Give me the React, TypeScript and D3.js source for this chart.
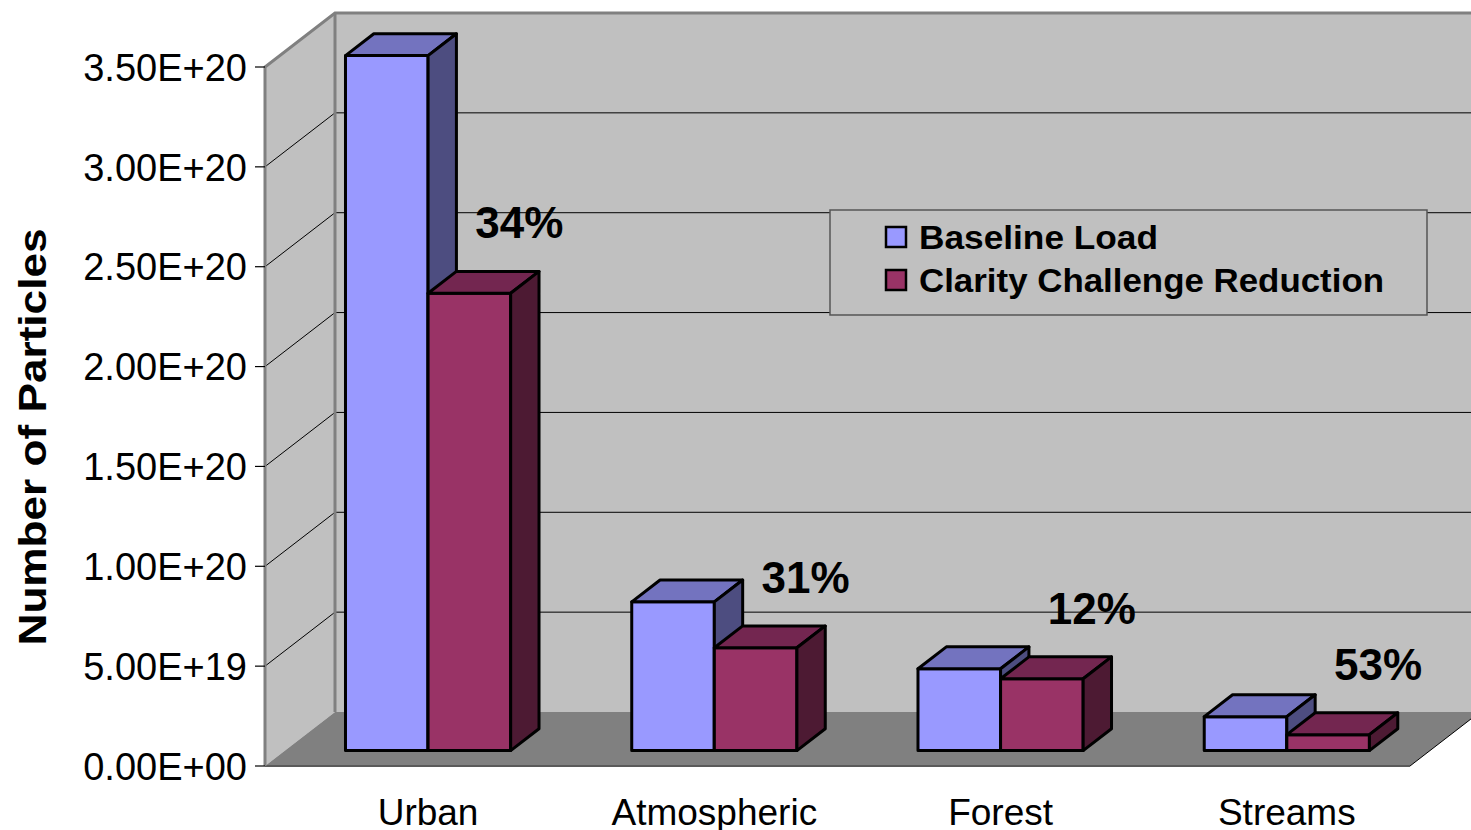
import * as d3 from "d3";

// chart data
const categories = ["Urban", "Atmospheric", "Forest", "Streams"];
const baseline = [3.48e20, 0.745e20, 0.41e20, 0.17e20];
const reduction = [2.29e20, 0.515e20, 0.36e20, 0.08e20];
const reductionPct = ["34%", "31%", "12%", "53%"];
const seriesNames = ["Baseline Load", "Clarity Challenge Reduction"];
const yTicks = [0, 5e19, 1e20, 1.5e20, 2e20, 2.5e20, 3e20, 3.5e20];
const yTickLabels = ["0.00E+00", "5.00E+19", "1.00E+20", "1.50E+20", "2.00E+20", "2.50E+20", "3.00E+20", "3.50E+20"];

const W = 1471;
const H = 830;
const FONT = "'Liberation Sans', Arial, sans-serif";

// 3d depth offset for the full floor depth
const DX = 70;
const DY = -54;
const BAR_D0 = 0.285;
const BAR_D1 = 0.69;

const front = { left: 265, right: 1410, bottom: 766, top: 67 };

const colors = {
  wall: "#c0c0c0",
  floor: "#808080",
  border: "#808080",
  base: { front: "#9999ff", top: "#7373bf", side: "#4d4d80" },
  red: { front: "#993366", top: "#732650", side: "#4d1a33" },
};

export default function App() {
  const x = d3.scaleBand<string>().domain(categories).range([front.left, front.right]).paddingInner(0).paddingOuter(0);
  const inner = d3.scaleBand<string>().domain(["base", "red"]).range([0, x.bandwidth()]).paddingOuter(0.733).paddingInner(0);
  const y = d3.scaleLinear().domain([0, 3.5e20]).range([front.bottom, front.top]);

  const proj = (px: number, v: number, d: number): [number, number] => [px + DX * d, y(v) + DY * d];
  const pts = (list: [number, number][]) => list.map(p => p.join(",")).join(" ");

  const bar = (x0: number, x1: number, v: number, c: { front: string; top: string; side: string }, key: string) => (
    <g key={key} stroke="#000" strokeWidth={3} strokeLinejoin="round">
      <polygon fill={c.front} points={pts([proj(x0, 0, BAR_D0), proj(x1, 0, BAR_D0), proj(x1, v, BAR_D0), proj(x0, v, BAR_D0)])} />
      <polygon fill={c.top} points={pts([proj(x0, v, BAR_D0), proj(x1, v, BAR_D0), proj(x1, v, BAR_D1), proj(x0, v, BAR_D1)])} />
      <polygon fill={c.side} points={pts([proj(x1, 0, BAR_D0), proj(x1, 0, BAR_D1), proj(x1, v, BAR_D1), proj(x1, v, BAR_D0)])} />
    </g>
  );

  const yMax = yTicks[yTicks.length - 1];
  const backRight = front.right + DX;

  return (
    <svg width={W} height={H} style={{ position: "absolute", left: 0, top: 0, background: "#fff" }} fontFamily={FONT}>
      {/* back wall */}
      <polygon fill={colors.wall} points={pts([proj(front.left, 0, 1), [backRight + 20, y(0) + DY], [backRight + 20, y(yMax) + DY], proj(front.left, yMax, 1)])} />
      {/* left wall */}
      <polygon fill={colors.wall} points={pts([proj(front.left, 0, 0), proj(front.left, 0, 1), proj(front.left, yMax, 1), proj(front.left, yMax, 0)])} />
      {/* floor */}
      <polygon fill={colors.floor} points={pts([proj(front.left, 0, 0), proj(front.right, 0, 0), proj(front.right, 0, 1), proj(front.left, 0, 1)])} />
      <line x1={front.left} x2={front.right} y1={y(0)} y2={y(0)} stroke="#5a5a5a" strokeWidth={2} />
      <line x1={front.right} y1={y(0)} x2={backRight} y2={y(0) + DY} stroke="#000" strokeWidth={1} />

      {/* gridlines */}
      {yTicks.slice(1, -1).map(t => {
        const a = proj(front.left, t, 0);
        const b = proj(front.left, t, 1);
        return (
          <g key={t} stroke="#000" strokeWidth={1}>
            <line x1={a[0]} y1={a[1]} x2={b[0]} y2={b[1]} />
            <line x1={b[0]} y1={b[1]} x2={W} y2={b[1]} />
          </g>
        );
      })}

      {/* wall borders */}
      <g stroke={colors.border} strokeWidth={3} fill="none">
        <polyline points={pts([proj(front.left, 0, 0), proj(front.left, yMax, 0), proj(front.left, yMax, 1), [W, y(yMax) + DY]])} />
        <line x1={front.left + DX} y1={y(yMax) + DY} x2={front.left + DX} y2={y(0) + DY} />
      </g>

      {/* y axis ticks and labels */}
      {yTicks.map((t, i) => (
        <g key={t}>
          <line x1={front.left - 10} x2={front.left} y1={y(t)} y2={y(t)} stroke="#000" strokeWidth={1.2} />
          <text x={front.left - 18} y={y(t)} dy="0.36em" textAnchor="end" fontSize={38} fill="#000">{yTickLabels[i]}</text>
        </g>
      ))}

      {/* bars */}
      {categories.map((c, i) => {
        const bx = x(c) as number;
        const b0 = bx + (inner("base") as number);
        const r0 = bx + (inner("red") as number);
        const bw = inner.bandwidth();
        return (
          <g key={c}>
            {bar(b0, b0 + bw, baseline[i], colors.base, "b")}
            {bar(r0, r0 + bw, reduction[i], colors.red, "r")}
          </g>
        );
      })}

      {/* percent labels */}
      {categories.map((c, i) => {
        const r0 = (x(c) as number) + (inner("red") as number) + inner.bandwidth() / 2;
        const p = proj(r0, reduction[i], BAR_D0);
        return (
          <text key={c} x={p[0] + 50} y={p[1] - 55} textAnchor="middle" fontSize={44} fontWeight="bold" fill="#000">{reductionPct[i]}</text>
        );
      })}

      {/* category labels */}
      {categories.map(c => (
        <text key={c} x={(x(c) as number) + x.bandwidth() / 2 + DX * BAR_D0} y={825} textAnchor="middle" fontSize={37} fill="#000">{c}</text>
      ))}

      {/* y axis title */}
      <text transform="translate(46,437) rotate(-90)" textAnchor="middle" fontSize={38} fontWeight="bold" fill="#000" textLength={417} lengthAdjust="spacingAndGlyphs">Number of Particles</text>

      {/* legend */}
      <g>
        <rect x={830} y={210} width={597} height={105} fill={colors.wall} stroke="#555" strokeWidth={1.5} />
        {seriesNames.map((s, i) => (
          <g key={s}>
            <rect x={886} y={227 + i * 43} width={20} height={20} fill={i === 0 ? colors.base.front : colors.red.front} stroke="#000" strokeWidth={2.5} />
            <text x={919} y={237 + i * 43} dy="0.36em" fontSize={33} fontWeight="bold" fill="#000" textLength={i === 0 ? 239 : 465} lengthAdjust="spacingAndGlyphs">{s}</text>
          </g>
        ))}
      </g>
    </svg>
  );
}
